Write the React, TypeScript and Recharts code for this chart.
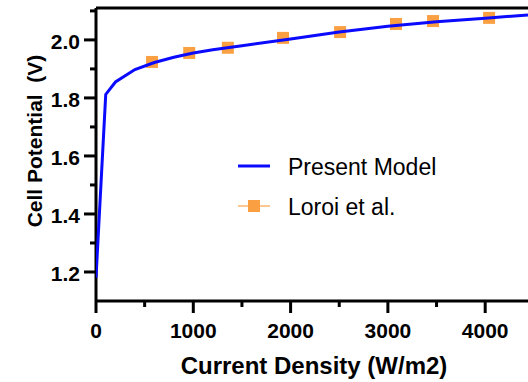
import {
  ComposedChart,
  Line,
  XAxis,
  YAxis,
  ReferenceLine,
  Label,
} from "recharts";

// Present Model (current density W/m2 -> cell potential V)
const modelX = [0, 100, 200, 400, 600, 800, 1000, 1200, 1500, 2000, 2500, 3000, 3500, 4000, 4440];
const modelY = [1.18, 1.812, 1.855, 1.898, 1.922, 1.94, 1.955, 1.966, 1.98, 2.003, 2.027, 2.047, 2.063, 2.075, 2.086];

// Loroi et al. (measured)
const loroiX = [576, 958, 1355, 1922, 2509, 3083, 3464, 4040];
const loroiY = [1.924, 1.955, 1.973, 2.007, 2.027, 2.055, 2.065, 2.076];

const xTicks = [0, 500, 1000, 1500, 2000, 2500, 3000, 3500, 4000];
const yTicks = [1.1, 1.2, 1.3, 1.4, 1.5, 1.6, 1.7, 1.8, 1.9, 2.0, 2.1];
const yLabels = ["1.2", "1.4", "1.6", "1.8", "2.0"];

const modelData = modelX.map((x, i) => ({ x, y: modelY[i] }));
const loroiData = loroiX.map((x, i) => ({ x, y: loroiY[i] }));

const FONT = "'Liberation Sans', Arial, sans-serif";
const BLUE = "#0a0aff";
const ORANGE = "#faa043";

function YTick(props: any) {
  const { x, y, payload } = props;
  const label = Number(payload.value).toFixed(1);
  const major = yLabels.includes(label);
  if (label === "1.1") return null;
  return (
    <g>
      <line x1={x - (major ? 12 : 6)} x2={x} y1={y} y2={y} stroke="#000" strokeWidth={3} />
      {major && (
        <text x={x - 16} y={y + 9} textAnchor="end" fontFamily={FONT} fontWeight="bold" fontSize={21} fill="#000">
          {label}
        </text>
      )}
    </g>
  );
}

function XTick(props: any) {
  const { x, y, payload } = props;
  const major = payload.value % 1000 === 0;
  return (
    <g>
      <line x1={x} x2={x} y1={y} y2={y + (major ? 12 : 6)} stroke="#000" strokeWidth={3} />
      {major && (
        <text x={x} y={y + 37} textAnchor="middle" fontFamily={FONT} fontWeight="bold" fontSize={21} fill="#000">
          {payload.value}
        </text>
      )}
    </g>
  );
}

function SquareDot(p: any) {
  if (p.cx == null || p.cy == null) return null;
  return <rect key={p.index} x={p.cx - 6} y={p.cy - 6} width={12} height={12} fill={ORANGE} />;
}

function LegendBox() {
  return (
    <svg width={260} height={80} style={{ position: "absolute", left: 230, top: 145, overflow: "visible" }}>
      <line x1={8} x2={40} y1={21} y2={21} stroke={BLUE} strokeWidth={3} />
      <text x={58} y={30} fontFamily={FONT} fontSize={23} fill="#000">
        Present Model
      </text>
      <line x1={8} x2={40} y1={61} y2={61} stroke="#fbb46c" strokeWidth={1.5} />
      <rect x={18} y={55} width={12} height={12} fill={ORANGE} />
      <text x={58} y={70} fontFamily={FONT} fontSize={23} fill="#000">
        Loroi et al.
      </text>
    </svg>
  );
}

export default function App() {
  return (
    <div style={{ position: "absolute", left: 0, top: 0, width: 528, height: 382, background: "#fff" }}>
      <ComposedChart width={528} height={382} margin={{ top: 8, right: 0, bottom: 0, left: 0 }}>
        <XAxis
          type="number"
          dataKey="x"
          domain={[0, 4440]}
          ticks={xTicks}
          interval={0}
          tick={<XTick />}
          tickLine={false}
          tickSize={0}
          tickMargin={0}
          height={81}
          axisLine={{ stroke: "#000", strokeWidth: 3 }}
          allowDataOverflow
        >
          <Label
            content={() => (
              <text x={314} y={374} textAnchor="middle" fontFamily={FONT} fontWeight="bold" fontSize={24} fill="#000">
                Current Density (W/m2)
              </text>
            )}
          />
        </XAxis>
        <YAxis
          type="number"
          dataKey="y"
          domain={[1.1, 2.11]}
          ticks={yTicks}
          interval={0}
          tick={<YTick />}
          tickLine={false}
          tickSize={0}
          tickMargin={0}
          width={96}
          axisLine={{ stroke: "#000", strokeWidth: 3 }}
          allowDataOverflow
        >
          <Label
            content={() => (
              <text
                x={42}
                y={141}
                transform="rotate(-90 42 141)"
                textAnchor="middle"
                fontFamily={FONT}
                fontWeight="bold"
                fontSize={21}
                fill="#000"
                style={{ whiteSpace: "pre" }}
              >
                Cell Potential  (V)
              </text>
            )}
          />
        </YAxis>
        <ReferenceLine y={2.11} stroke="#000" strokeWidth={3} />
        <Line
          data={loroiData}
          dataKey="y"
          stroke="none"
          dot={<SquareDot />}
          activeDot={false}
          isAnimationActive={false}
          zIndex={300}
        />
        <Line
          data={modelData}
          dataKey="y"
          type="linear"
          stroke={BLUE}
          strokeWidth={3}
          dot={false}
          isAnimationActive={false}
          zIndex={1500}
        />
      </ComposedChart>
      <LegendBox />
    </div>
  );
}
